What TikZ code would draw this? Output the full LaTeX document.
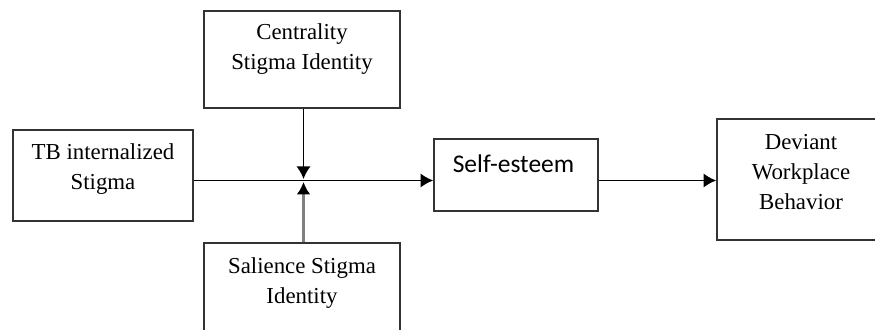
\documentclass[tikz,border=0pt]{standalone}
\usepackage{fontspec}
\setmainfont{Liberation Serif}
\newfontfamily\calfont{Carlito}
\usepackage{tikz}
\usetikzlibrary{arrows.meta, positioning, calc}

\begin{document}
\begin{tikzpicture}[
        x=0.02cm, y=-0.02cm,
        box/.style={rectangle, draw=black!80, line width=0.9pt, fill=white, inner sep=0pt},
        txt/.style={align=center, inner sep=0pt, font=\fontsize{13}{17}\selectfont},
        arrow/.style={-{Latex[length=0.25cm, width=0.28cm]}, line width=0.9pt, color=black},
        grayarrow/.style={-{Latex[length=0.25cm, width=0.28cm, color=black]}, line width=1.5pt, draw=black!50}
    ]
        \useasboundingbox (0,0) rectangle (875,330);
        % boxes
        \node[box, minimum width=3.6cm, minimum height=1.82cm] (tb) at (103,175.5) {};
        \node[box, minimum width=3.92cm, minimum height=1.94cm] (csi) at (302,59.5) {};
        \node[box, minimum width=3.92cm, minimum height=1.94cm] (ssi) at (302,291.5) {};
        \node[box, minimum width=3.28cm, minimum height=1.44cm] (se) at (516,175) {};
        \node[box, minimum width=3.36cm, minimum height=2.42cm] (dwb) at (801,179.5) {};
        % texts
        \node[txt] (tbtxt) at ($(tb.north)+(0,40)$) {TB internalized\\Stigma};
        \node[txt] (csitxt) at ($(csi.north)+(0,39)$) {Centrality\\Stigma Identity};
        \node[txt] (ssitxt) at ($(ssi.north)+(0,40.5)$) {Salience Stigma\\Identity};
        \node[txt, font=\calfont\fontsize{14.5}{17}\selectfont] (setxt) at ($(se.north)+(-2.5,26)$) {Self-esteem};
        \node[txt] (dwbtxt) at ($(dwb.north)+(0,54)$) {Deviant\\Workplace\\Behavior};
        % connectors
        \coordinate (jn) at (303.5,180.5);
        \draw[arrow] (tb.east |- jn) -- (se.west |- jn);
        \draw[arrow] (csi.south -| jn) -- ($(jn)+(0,-1.5)$);
        \draw[grayarrow] (ssi.north -| jn) -- ($(jn)+(0,1.5)$);
        \draw[arrow] (se.east |- jn) -- (dwb.west |- jn);
    \end{tikzpicture}
\end{document}
